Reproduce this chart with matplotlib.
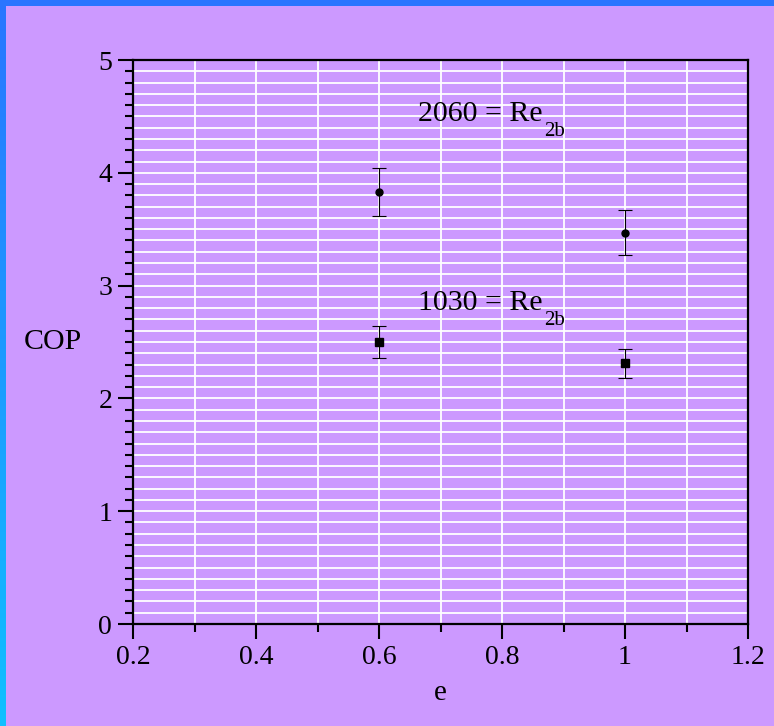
import numpy as np
import matplotlib
matplotlib.use("Agg")
import matplotlib.pyplot as plt
from matplotlib.ticker import MultipleLocator

plt.rcParams['font.family'] = ['Liberation Serif', 'DejaVu Serif']

# data
e_vals = [0.6, 1.0]
cop_2060 = [3.83, 3.47]
err_2060 = [0.21, 0.20]
cop_1030 = [2.50, 2.31]
err_1030 = [0.14, 0.13]
labels = ['2060 = Re', '1030 = Re']
sub_label = '2b'
label_pos = [(0.664, 4.46), (0.664, 2.78)]

bg = '#cc99ff'
fig = plt.figure(figsize=(7.74, 7.26), dpi=100, facecolor=bg)

# blue frame along top and left edge
frame = fig.add_axes([0, 0, 1, 1], zorder=-5)
frame.set_axis_off()
grad = np.linspace(0, 1, 256).reshape(-1, 1)
cmap = matplotlib.colors.LinearSegmentedColormap.from_list('b', ['#2a75ff', '#10c0ff'])
frame.imshow(grad, cmap=cmap, aspect='auto', extent=[0, 6 / 774, 0, 1], origin='upper')
frame.axhspan(1 - 6 / 726, 1, color='#2a75ff', lw=0)
frame.set_xlim(0, 1)
frame.set_ylim(0, 1)

ax = fig.add_axes([133 / 774, 1 - 624 / 726, (748 - 133) / 774, (624 - 60) / 726])
ax.set_facecolor(bg)

ax.errorbar(e_vals, cop_2060, yerr=err_2060, fmt='o', color='black', ms=5,
            ecolor='black', elinewidth=0.8, capsize=5, capthick=0.8, zorder=5)
ax.errorbar(e_vals, cop_1030, yerr=err_1030, fmt='s', color='black', ms=5.5,
            ecolor='black', elinewidth=0.8, capsize=5, capthick=0.8, zorder=5)

ax.set_xlim(0.2, 1.2)
ax.set_ylim(0, 5)

# main label + dropped subscript
fig.canvas.draw()
renderer = fig.canvas.get_renderer()
for txt, (x, y) in zip(labels, label_pos):
    t = ax.text(x, y, txt, fontsize=21.5, ha='left', va='baseline', zorder=6)
    bb = t.get_window_extent(renderer)
    sx, sy = ax.transData.transform((x, y))
    px, py = ax.transData.inverted().transform((bb.x1 + 1, sy - 15))
    ax.text(px, py, sub_label, fontsize=15, ha='left', va='baseline', zorder=6)

ax.xaxis.set_major_locator(MultipleLocator(0.2))
ax.xaxis.set_minor_locator(MultipleLocator(0.1))
ax.yaxis.set_major_locator(MultipleLocator(1))
ax.yaxis.set_minor_locator(MultipleLocator(0.1))
ax.xaxis.set_major_formatter(matplotlib.ticker.FuncFormatter(lambda v, p: f'{v:g}'))

ax.grid(which='both', color='white', lw=1.3, zorder=0)
ax.set_axisbelow(True)
for s in ax.spines.values():
    s.set_linewidth(1.6)
ax.tick_params(which='major', direction='out', length=11, width=1.5,
               labelsize=20, pad=4, top=False, right=False)
ax.tick_params(which='minor', direction='out', length=5.5, width=1.5,
               top=False, right=False)

ax.set_xlabel('e', fontsize=21, labelpad=7)
ax.set_ylabel('COP', fontsize=21.5, rotation=0, labelpad=33, va='center')

fig.savefig('out.png', dpi=100, facecolor=bg)
